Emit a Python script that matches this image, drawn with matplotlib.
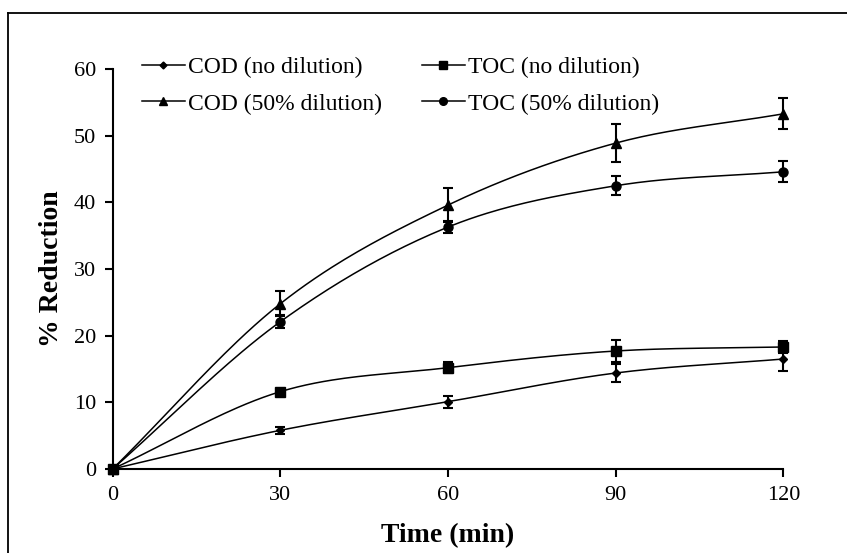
import numpy as np
import matplotlib
matplotlib.use("Agg")
import matplotlib.pyplot as plt
from matplotlib.lines import Line2D

plt.rcParams['font.family'] = ['Liberation Serif', 'DejaVu Serif']

time = [0, 30, 60, 90, 120]
cod_nodil = [0, 5.8, 10.1, 14.4, 16.5]
cod_nodil_err = [0.3, 0.5, 0.9, 1.3, 1.8]
toc_nodil = [0, 11.6, 15.2, 17.7, 18.3]
toc_nodil_err = [0.3, 0.4, 0.8, 1.6, 0.9]
cod_50 = [0, 24.8, 39.6, 48.9, 53.3]
cod_50_err = [0.3, 1.9, 2.6, 2.9, 2.3]
toc_50 = [0, 22.1, 36.3, 42.5, 44.6]
toc_50_err = [0.3, 1.0, 0.9, 1.4, 1.6]

labels = ["COD (no dilution)", "TOC (no dilution)", "COD (50% dilution)", "TOC (50% dilution)"]
series = [(cod_nodil, cod_nodil_err, 'D', 4.5), (toc_nodil, toc_nodil_err, 's', 6.5),
          (cod_50, cod_50_err, '^', 6.5), (toc_50, toc_50_err, 'o', 6.5)]


def smooth(x, y, n=40):
    # Excel-like smoothed line (cardinal Bezier through the data points)
    x = np.asarray(x, float); y = np.asarray(y, float)
    px = np.concatenate([[2 * x[0] - x[1]], x, [2 * x[-1] - x[-2]]])
    py = np.concatenate([[2 * y[0] - y[1]], y, [2 * y[-1] - y[-2]]])
    xs, ys = [], []
    for i in range(1, len(px) - 2):
        p0, p1, p2, p3 = [np.array([px[j], py[j]]) for j in (i - 1, i, i + 1, i + 2)]
        c1 = p1 + (p2 - p0) / 6.0
        c2 = p2 - (p3 - p1) / 6.0
        t = np.linspace(0, 1, n)[:, None]
        b = (1 - t) ** 3 * p1 + 3 * (1 - t) ** 2 * t * c1 + 3 * (1 - t) * t ** 2 * c2 + t ** 3 * p2
        xs.append(b[:, 0]); ys.append(b[:, 1])
    return np.concatenate(xs), np.concatenate(ys)


fig = plt.figure(figsize=(8.47, 5.53), dpi=100)
ax = fig.add_axes([0.133, 0.152, 0.792, 0.723])

handles = []
for (vals, err, mk, ms), lab in zip(series, labels):
    sx, sy = smooth(time, vals)
    ax.plot(sx, sy, color='black', lw=1.1, zorder=2)
    ax.errorbar(time, vals, yerr=err, fmt=mk, color='black', ms=ms, ecolor='black',
                elinewidth=1.5, capsize=3.8, capthick=1.5, zorder=3, clip_on=False)
    handles.append(Line2D([], [], color='black', lw=1.1, marker=mk, ms=ms - 1))

ax.set_xlim(0, 120)
ax.set_ylim(0, 60)
ax.set_xticks([0, 30, 60, 90, 120])
ax.set_yticks(range(0, 61, 10))
ax.spines['top'].set_visible(False)
ax.spines['right'].set_visible(False)
ax.spines['left'].set_linewidth(1.5)
ax.spines['bottom'].set_linewidth(1.5)
ax.tick_params(axis='both', direction='out', length=6, width=1.5, labelsize=16, pad=6)
ax.set_xlabel('Time (min)', fontsize=20, fontweight='bold', labelpad=13.5)
ax.set_ylabel('% Reduction', fontsize=20, fontweight='bold', labelpad=7)
ax.patch.set_alpha(0)

order = [0, 2, 1, 3]
fig.legend([handles[i] for i in order], [labels[i] for i in order], ncol=2,
           loc='upper left', bbox_to_anchor=(142 / 847, 1 - 57 / 553),
           frameon=False, fontsize=17, handlelength=1.8, handletextpad=0.15,
           columnspacing=1.7, labelspacing=0.62, borderpad=0, borderaxespad=0)

# partial frame (left and top edges visible in the reference)
fig.add_artist(Line2D([8 / 847, 8 / 847], [0, 1 - 13 / 553], transform=fig.transFigure,
                      color='black', lw=1.3))
fig.add_artist(Line2D([8 / 847, 1], [1 - 13 / 553, 1 - 13 / 553], transform=fig.transFigure,
                      color='black', lw=1.3))

fig.savefig('out.png', dpi=100)
